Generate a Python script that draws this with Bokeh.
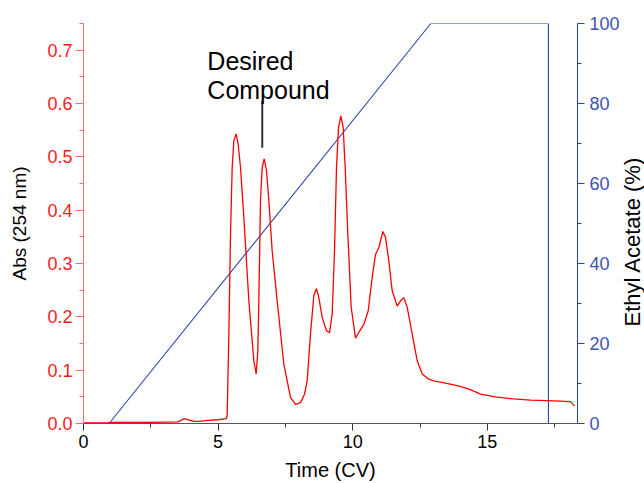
import math
from bokeh.plotting import figure
from bokeh.models import (Range1d, LinearAxis, FixedTicker, PrintfTickFormatter,
                          Label, Segment, ColumnDataSource)
from bokeh.embed import file_html
from bokeh.resources import INLINE

# ---- data ----
time_cv = [0.0, 0.9, 1.0, 2.5, 3.5, 3.62, 3.75, 3.9, 4.1, 4.3, 4.6, 5.0, 5.3,
           5.337, 5.399, 5.461, 5.523, 5.584, 5.671, 5.745, 5.832, 5.956, 6.142,
           6.327, 6.414, 6.476, 6.513, 6.575, 6.637, 6.711, 6.798, 6.885, 7.008,
           7.194, 7.442, 7.689, 7.875, 8.061, 8.210, 8.309, 8.432, 8.556, 8.655,
           8.742, 8.866, 9.027, 9.138, 9.237, 9.324, 9.398, 9.473, 9.559, 9.646,
           9.720, 9.819, 9.943, 10.104, 10.228, 10.413, 10.575, 10.723, 10.847,
           10.971, 11.119, 11.218, 11.342, 11.466, 11.652, 11.776, 11.899, 12.023,
           12.209, 12.395, 12.581, 12.828, 13.01, 13.4, 13.88, 14.3, 14.75, 15.3,
           15.98, 16.6, 17.22, 17.7, 18.09, 18.24]
abs_254 = [0.001, 0.001, 0.002, 0.002, 0.003, 0.006, 0.009, 0.007, 0.004, 0.004,
           0.006, 0.007, 0.009,
           0.0144, 0.168, 0.355, 0.480, 0.530, 0.543, 0.524, 0.480, 0.387, 0.230,
           0.118, 0.093, 0.136, 0.230, 0.418, 0.480, 0.496, 0.474, 0.418, 0.324,
           0.230, 0.111, 0.049, 0.036, 0.039, 0.055, 0.080, 0.168, 0.240, 0.253,
           0.236, 0.199, 0.174, 0.170, 0.205, 0.324, 0.480, 0.555, 0.577, 0.555,
           0.480, 0.355, 0.218, 0.160, 0.171, 0.186, 0.211, 0.274, 0.317,
           0.330, 0.360, 0.349, 0.305, 0.249, 0.220, 0.230, 0.236, 0.218,
           0.168, 0.118, 0.093, 0.083, 0.080, 0.076, 0.071, 0.065, 0.055, 0.050,
           0.046, 0.044, 0.043, 0.042, 0.041, 0.033]

gradient_time = [0.0, 0.95, 12.9, 17.27, 17.27, 18.35]
gradient_pct = [0, 0, 100, 100, 0, 0]

abs_ticks = [0.0, 0.1, 0.2, 0.3, 0.4, 0.5, 0.6, 0.7]
abs_minor = [0.05, 0.15, 0.25, 0.35, 0.45, 0.55, 0.65, 0.75]
pct_ticks = [0, 20, 40, 60, 80, 100]
pct_minor = [10, 30, 50, 70, 90]
time_ticks = [0, 5, 10, 15]
time_minor = [2.5, 7.5, 12.5, 17.5]

RED = "#ff1a1a"
BLUE = "#3f51b5"
LINEBLUE = "#2e45a8"
FONT = "Liberation Sans"

p = figure(x_range=Range1d(0, 18.35), y_range=Range1d(0, 0.75),
           frame_width=494, frame_height=400,
           min_border_left=83, min_border_top=23, min_border_right=65,
           min_border_bottom=55,
           output_backend="svg", toolbar_location=None,
           x_axis_location="below", y_axis_location="left")
p.extra_y_ranges = {"ea": Range1d(0, 100)}
p.outline_line_color = None
p.xgrid.visible = False
p.ygrid.visible = False
p.background_fill_color = "white"
p.border_fill_color = "white"

# left axis
ya = p.yaxis[0]
ya.ticker = FixedTicker(ticks=abs_ticks, minor_ticks=abs_minor)
ya.formatter = PrintfTickFormatter(format="%.1f")
ya.axis_label = "Abs (254 nm)"
ya.axis_line_color = "#ff6a6a"
ya.major_tick_line_color = "#ff6a6a"
ya.minor_tick_line_color = "#ff6a6a"
ya.major_label_text_color = RED
ya.major_tick_out = 8
ya.major_tick_in = 0
ya.minor_tick_out = 4
ya.minor_tick_in = 0
ya.major_label_standoff = 3
ya.major_label_text_font = FONT
ya.major_label_text_font_size = "18px"
ya.axis_label_text_font = FONT
ya.axis_label_text_font_style = "normal"
ya.axis_label_text_font_size = "19px"
ya.axis_label_text_color = "black"
ya.axis_label_standoff = 14

# bottom axis
xa = p.xaxis[0]
xa.ticker = FixedTicker(ticks=time_ticks, minor_ticks=time_minor)
xa.formatter = PrintfTickFormatter(format="%d")
xa.axis_label = "Time (CV)"
xa.axis_line_color = "#555555"
xa.major_tick_line_color = "#333333"
xa.minor_tick_line_color = "#333333"
xa.major_label_text_color = "black"
xa.major_tick_out = 7
xa.major_tick_in = 0
xa.minor_tick_out = 4
xa.minor_tick_in = 0
xa.major_label_standoff = 4
xa.major_label_text_font = FONT
xa.major_label_text_font_size = "18px"
xa.axis_label_text_font = FONT
xa.axis_label_text_font_style = "normal"
xa.axis_label_text_font_size = "20px"
xa.axis_label_text_color = "black"
xa.axis_label_standoff = 8

# right axis (its title is drawn as a rotated label in the right panel)
ra = LinearAxis(y_range_name="ea")
ra.ticker = FixedTicker(ticks=pct_ticks, minor_ticks=pct_minor)
ra.formatter = PrintfTickFormatter(format="%d")
ra.axis_line_color = LINEBLUE
ra.major_tick_line_color = LINEBLUE
ra.minor_tick_line_color = LINEBLUE
ra.major_label_text_color = BLUE
ra.major_tick_out = 7
ra.major_tick_in = 0
ra.minor_tick_out = 4
ra.minor_tick_in = 0
ra.major_label_standoff = 5
ra.major_label_text_font = FONT
ra.major_label_text_font_size = "18px"
p.add_layout(ra, "right")

p.add_layout(Label(x=10, y=182, x_units="screen", y_units="screen",
                   text="Ethyl Acetate (%)", angle=math.pi / 2,
                   text_align="center", text_baseline="middle",
                   text_font=FONT, text_font_size="22px", text_color="black"),
             "right")

# data
p.line(gradient_time, gradient_pct, y_range_name="ea", line_color=LINEBLUE,
       line_width=1.1)
p.line(time_cv, abs_254, line_color="#ff0000", line_width=1.3)

# annotation
ann_src = ColumnDataSource(dict(x0=[6.64], y0=[0.517], x1=[6.64], y1=[0.604]))
p.add_glyph(ann_src, Segment(x0="x0", y0="y0", x1="x1", y1="y1",
                             line_color="#333333", line_width=2))
p.add_layout(Label(x=4.6, y=0.679, text="Desired", text_font=FONT,
                   text_font_size="25px", text_color="black",
                   text_baseline="alphabetic"))
p.add_layout(Label(x=4.6, y=0.6255, text="Compound", text_font=FONT,
                   text_font_size="25px", text_color="black",
                   text_baseline="alphabetic"))

open("out.html", "w").write(file_html(p, INLINE))
